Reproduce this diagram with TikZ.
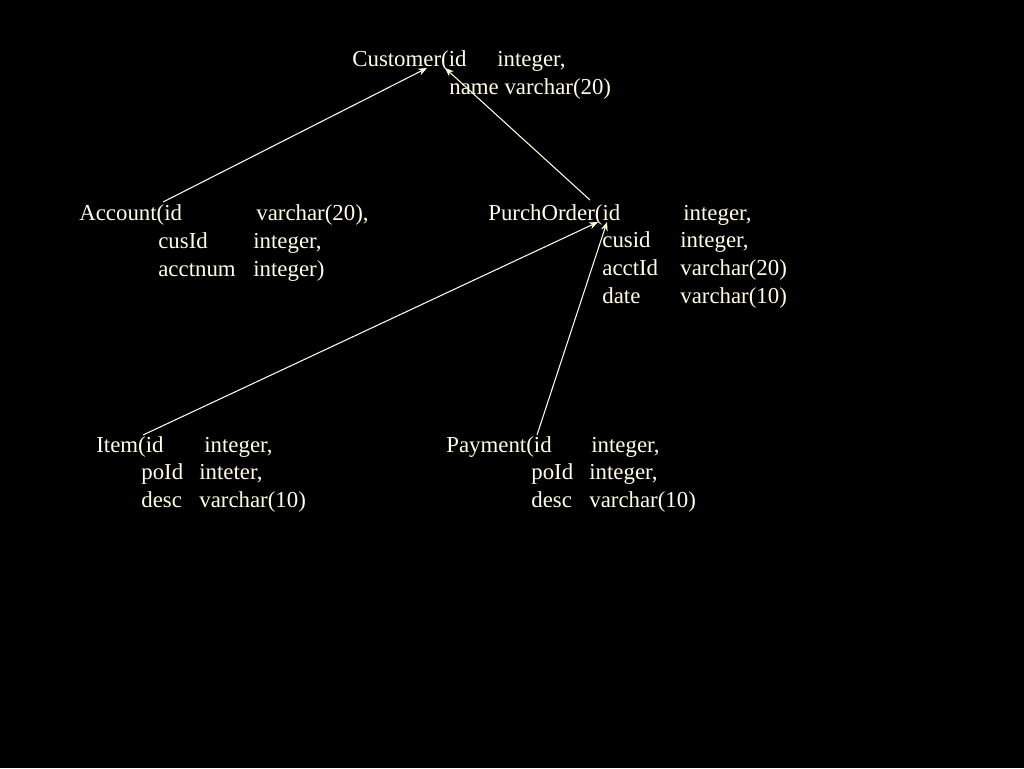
\documentclass[tikz,border=0pt]{standalone}
\usepackage{fontspec}
\setmainfont{Liberation Serif}
\usetikzlibrary{arrows.meta, positioning, calc}
\definecolor{tiza}{RGB}{255, 255, 228}

\begin{document}
\begin{tikzpicture}[
        x=0.02cm, y=-0.02cm,
        campo/.style={
            anchor=base west,
            inner sep=0pt,
            text=tiza,
            font=\fontsize{13}{15.4}\selectfont
        },
        enlace/.style={
            draw=tiza,
            line width=0.6pt,
            -{Stealth[length=5pt, width=4pt]}
        }
    ]
        \fill[black] (0,0) rectangle (1024,768);

        % Customer
        \node[campo] (customer) at (352,66) {Customer(id};
        \node[campo] (customer-tipo) at (497,66) {integer,};
        \node[campo] (customer-name) at (449,94) {name varchar(20)};

        % Account
        \node[campo] (account) at (79,220) {Account(id};
        \node[campo] (account-tipo) at (256,220) {varchar(20),};
        \foreach \campo/\tipo [count=\n] in {cusId/{integer,}, acctnum/{integer)}} {
            \node[campo] (account-\n) at (158,{220+28*\n}) {\campo};
            \node[campo] (account-tipo-\n) at (253,{220+28*\n}) {\tipo};
        }

        % PurchOrder
        \node[campo] (purch) at (488,220) {PurchOrder(id};
        \node[campo] (purch-tipo) at (683,220) {integer,};
        \foreach \campo/\tipo [count=\n] in {cusid/{integer,}, acctId/varchar(20), date/varchar(10)} {
            \node[campo] (purch-\n) at (602,{220+27.7*\n}) {\campo};
            \node[campo] (purch-tipo-\n) at (680,{220+27.7*\n}) {\tipo};
        }

        % Item
        \node[campo] (item) at (96,452) {Item(id};
        \node[campo] (item-tipo) at (204,452) {integer,};
        \foreach \campo/\tipo [count=\n] in {poId/{inteter,}, desc/varchar(10)} {
            \node[campo] (item-\n) at (141,{452+27.5*\n}) {\campo};
            \node[campo] (item-tipo-\n) at (199,{452+27.5*\n}) {\tipo};
        }

        % Payment
        \node[campo] (payment) at (446,452) {Payment(id};
        \node[campo] (payment-tipo) at (591,452) {integer,};
        \foreach \campo/\tipo [count=\n] in {poId/{integer,}, desc/varchar(10)} {
            \node[campo] (payment-\n) at (531,{452+27.5*\n}) {\campo};
            \node[campo] (payment-tipo-\n) at (589,{452+27.5*\n}) {\tipo};
        }

        % claves foraneas
        \draw[enlace] ($(account.base west)+(84,-18)$) -- ($(customer.base west)+(75,2)$);
        \draw[enlace] ($(purch.base west)+(102,-20)$) -- ($(customer.base west)+(93,2)$);
        \draw[enlace] ($(item.base west)+(47,-17)$) -- ($(purch.base west)+(110,2)$);
        \draw[enlace] ($(payment.base west)+(91,-17)$) -- ($(purch.base west)+(119,2)$);
    \end{tikzpicture}
\end{document}
